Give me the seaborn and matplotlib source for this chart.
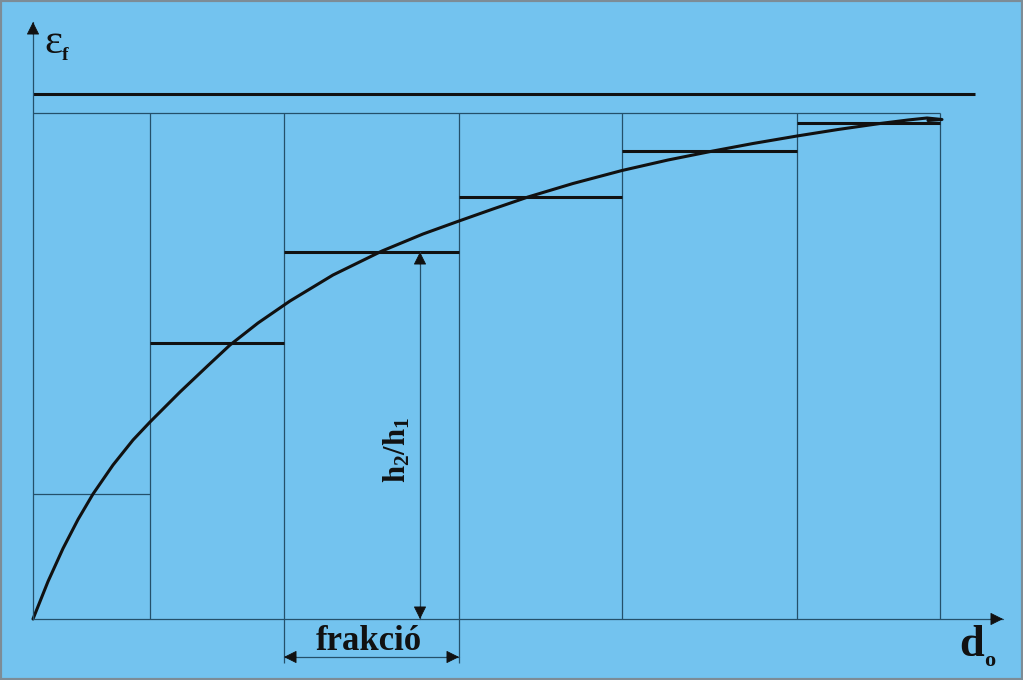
import numpy as np
import matplotlib
matplotlib.use("Agg")
import matplotlib.pyplot as plt
import seaborn as sns

# fraction boundaries (d_o) and step heights (eps_f)
edges = [0, 117, 251, 426, 589, 764, 907]
levels = [125, 276, 367, 422, 468, 496]

# continuous eps_f(d_o) curve
curve_x = [0, 15, 30, 45, 60, 80, 100, 117, 147, 175, 197, 225, 257, 300, 349, 390, 426,
           460, 495, 540, 589, 635, 680, 720, 764, 805, 847, 875, 894, 909, 895]
curve_y = [0, 37.5, 70.5, 99.5, 125, 154, 179, 197, 227, 253.5, 274, 296, 318, 344, 368, 385, 398,
           410, 422, 435.5, 448.5, 459, 468, 475.5, 483, 489.5, 495.5, 499, 501, 499.5, 498.5]

frame_top = 506
limit_line = 525

bg = "#73c3ef"
thin = "#24506a"
thick = "#111111"

sns.set_theme(style="white")
plt.rcParams["mathtext.fontset"] = "custom"
plt.rcParams["mathtext.rm"] = "Liberation Serif"
plt.rcParams["mathtext.bf"] = "Liberation Serif:bold"

fig = plt.figure(figsize=(10.23, 6.8), dpi=100, facecolor=bg)
ax = fig.add_axes([0, 0, 1, 1])
ax.set_facecolor(bg)
ax.set_xlim(-33, 990)
ax.set_ylim(-61, 619)
ax.axis("off")

# frame of fractions
ax.vlines(edges[1:], 0, frame_top, color=thin, lw=0.9)
ax.vlines([edges[2], edges[3]], -44, 0, color=thin, lw=0.9)
ax.hlines(frame_top, edges[0], edges[-1], color=thin, lw=0.9)

# step levels
ax.hlines(levels[0], edges[0], edges[1], color=thin, lw=0.9)
ax.hlines(levels[1:], edges[1:-1], edges[2:], color=thick, lw=2.2)

# limit line
ax.hlines(limit_line, 0, 942, color=thick, lw=2.2)

# curve
sns.lineplot(x=curve_x, y=curve_y, sort=False, color=thick, lw=2.2, ax=ax, estimator=None)


def head(tip, frm):
    ax.annotate("", xy=tip, xytext=frm,
                arrowprops=dict(arrowstyle="-|>", color=thick, lw=0.6, mutation_scale=20,
                                shrinkA=0, shrinkB=0))


# axes
ax.plot([0, 0], [0, 597], color=thin, lw=0.9)
ax.plot([0, 970], [0, 0], color=thin, lw=0.9)
head((0, 597), (0, 585))
head((970, 0), (958, 0))

# h2/h1 double arrow
ax.plot([387, 387], [0, levels[2]], color=thin, lw=0.9)
head((387, levels[2]), (387, levels[2] - 12))
head((387, 0), (387, 12))
ax.text(364, 169, r"$\mathbf{h_2/h_1}$", rotation=90, ha="center", va="center", fontsize=22, color=thick)

# fraction width arrow
ax.plot([edges[2], edges[3]], [-38, -38], color=thin, lw=0.9)
head((edges[2], -38), (edges[2] + 12, -38))
head((edges[3], -38), (edges[3] - 12, -38))
ax.text(336, -22, "frakció", ha="center", va="center", fontsize=25, fontweight="bold",
        family="Liberation Serif", color=thick)

# axis labels
ax.text(20, 576, "ε", ha="center", va="center", fontsize=31, family="Liberation Serif", color=thick)
ax.text(32, 563, "f", ha="center", va="center", fontsize=14, fontweight="bold",
        family="Liberation Serif", color=thick)
ax.text(939, -26, "d", ha="center", va="center", fontsize=32, fontweight="bold",
        family="Liberation Serif", color=thick)
ax.text(957, -42, "o", ha="center", va="center", fontsize=16, fontweight="bold",
        family="Liberation Serif", color=thick)

# image border
fig.patches.append(plt.Rectangle((0, 0), 1, 1, transform=fig.transFigure, fill=False,
                                 edgecolor="#7d8c96", lw=3))

fig.savefig("out.png", dpi=100, facecolor=bg)
